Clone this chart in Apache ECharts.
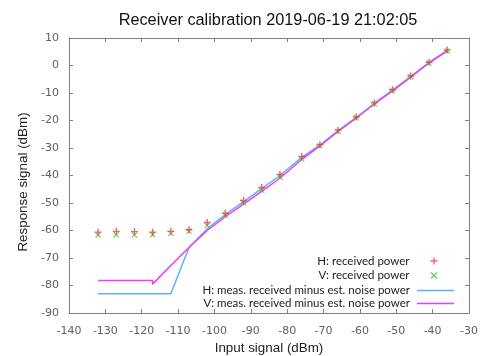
<!DOCTYPE html>
<html><head><meta charset="utf-8">
<script src="https://cdn.jsdelivr.net/npm/echarts@6/dist/echarts.min.js"></script>
<style>html,body{margin:0;padding:0;background:#fff}#c{width:480px;height:356px}</style>
</head><body><div id="c"></div>
<script>
var inputSignal = [-132,-127,-122,-117,-112,-107,-102,-97,-92,-87,-82,-76,-71,-66,-61,-56,-51,-46,-41,-36];
var hPower = [-60.6,-60.3,-60.4,-60.6,-60.3,-59.7,-57.1,-53.7,-49.1,-44.3,-39.6,-33.1,-28.8,-23.5,-18.7,-13.6,-8.8,-3.8,1.2,5.6];
var vPower = [-61.6,-61.5,-61.6,-61.5,-61.1,-60.2,-58.2,-54.5,-50.0,-45.4,-40.6,-34.0,-29.2,-23.9,-19.0,-13.9,-9.1,-4.1,0.9,5.3];
var hNet = [-83,-83,-83,-83,-83,-66.2,-59.4,-54.2,-49.5,-44.8,-40.0,-33.4,-28.9,-23.7,-18.9,-13.8,-8.9,-3.9,1.1,5.5];
var vNetX = [-132,-127,-122,-117,-117,-112,-107,-102,-97,-92,-87,-82,-76,-71,-66,-61,-56,-51,-46,-41,-36];
var vNet = [-78.2,-78.2,-78.2,-78.2,-79.5,-72.7,-66.2,-60.0,-55.0,-50.4,-45.8,-41.0,-34.2,-29.2,-24.0,-19.1,-14.0,-9.2,-4.2,0.9,5.3];
var xTicks = {min:-140, max:-30, interval:10};
var yTicks = {min:-90, max:10, interval:10};
var names = ['H: received power','V: received power','H: meas. received minus est. noise power','V: meas. received minus est. noise power'];
var titleText = 'Receiver calibration 2019-06-19 21:02:05';

function pairs(xs, ys){ return xs.map(function(x,i){return [x, ys[i]];}); }
var plusPath = 'path://M4,0H6V10H4Z M0,4H10V6H0Z';
var crossPath = 'path://M0,1.4L1.4,0L10,8.6L8.6,10Z M8.6,0L10,1.4L1.4,10L0,8.6Z';
var red = '#f03c3c', green = '#3ccf3c', blue = '#5fb0f5', magenta = '#f23cf2';
var axisCol = '#808080', labCol = '#606060';
var lblFont = {color: labCol, fontFamily: 'DejaVu Sans', fontSize: 11};

function legendAt(name, top, isLine, icon){
  var o = {data:[{name:name, icon:icon}], orient:'vertical', align:'right', top: top,
    textStyle:{fontFamily:'Lato', fontSize:11.5, color:'#222'}, selectedMode:false};
  if (isLine){ o.right = 21; o.itemWidth = 37; o.itemHeight = 1.6; o.textStyle.padding = [0,2,0,0]; }
  else { o.right = 37.5; o.itemWidth = 7; o.itemHeight = 7; o.textStyle.padding = [0,16,0,0]; }
  return o;
}

var noZero = {onZero:false, show:true, lineStyle:{color:axisCol}};
var tick = {show:true, inside:true, length:4, lineStyle:{color:axisCol}};

var chart = echarts.init(document.getElementById('c'), null, {renderer:'canvas'});
chart.setOption({
  animation: false,
  backgroundColor: '#fff',
  title: {text: titleText, left: 263, textAlign: 'center', top: 8,
    textStyle: {fontFamily: 'Liberation Sans', fontSize: 16.3, fontWeight: 'normal', color: '#111'}},
  grid: {left: 69, right: 11, top: 38, bottom: 43, outerBoundsMode: 'none', containLabel: false},
  legend: [
    legendAt(names[0], 250, false, plusPath),
    legendAt(names[1], 264.5, false, crossPath),
    legendAt(names[2], 279.5, true, 'rect'),
    legendAt(names[3], 292.5, true, 'rect')
  ],
  xAxis: [
    {type:'value', min:xTicks.min, max:xTicks.max, interval:xTicks.interval, position:'bottom',
     name:'Input signal (dBm)', nameLocation:'middle', nameGap:28,
     nameTextStyle:{fontFamily:'Liberation Sans', fontSize:13.4, color:'#222'},
     axisLine:noZero, axisTick:tick,
     axisLabel:Object.assign({margin:13}, lblFont), splitLine:{show:false}},
    {type:'value', min:xTicks.min, max:xTicks.max, interval:xTicks.interval, position:'top',
     axisLine:noZero, axisTick:tick, axisLabel:{show:false}, splitLine:{show:false}}
  ],
  yAxis: [
    {type:'value', min:yTicks.min, max:yTicks.max, interval:yTicks.interval, position:'left',
     name:'Response signal (dBm)', nameLocation:'middle', nameGap:39,
     nameTextStyle:{fontFamily:'Liberation Sans', fontSize:13.4, color:'#222', padding:[0,13,0,0]},
     axisLine:noZero, axisTick:tick,
     axisLabel:Object.assign({margin:10}, lblFont), splitLine:{show:false}},
    {type:'value', min:yTicks.min, max:yTicks.max, interval:yTicks.interval, position:'right',
     axisLine:noZero, axisTick:tick, axisLabel:{show:false}, splitLine:{show:false}}
  ],
  series: [
    {name:names[2], type:'line', data:pairs(inputSignal, hNet), symbol:'none', z:2,
     lineStyle:{color:blue, width:1.5}, itemStyle:{color:blue}},
    {name:names[3], type:'line', data:pairs(vNetX, vNet), symbol:'none', z:3,
     lineStyle:{color:magenta, width:1.5}, itemStyle:{color:magenta}},
    {name:names[0], type:'scatter', data:pairs(inputSignal, hPower), symbol:plusPath, symbolSize:7, z:5,
     itemStyle:{color:red}},
    {name:names[1], type:'scatter', data:pairs(inputSignal, vPower), symbol:crossPath, symbolSize:6, z:4,
     itemStyle:{color:green}}
  ]
});
</script></body></html>
